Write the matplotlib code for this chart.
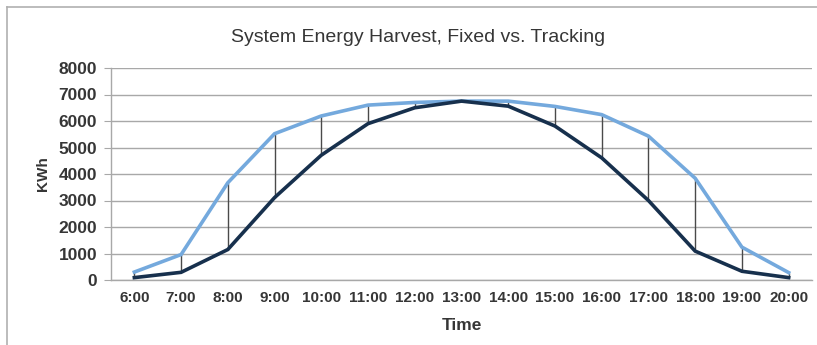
import matplotlib.pyplot as plt
from matplotlib.lines import Line2D

# hourly energy harvest (KWh)
hours = ["6:00", "7:00", "8:00", "9:00", "10:00", "11:00", "12:00", "13:00",
         "14:00", "15:00", "16:00", "17:00", "18:00", "19:00", "20:00"]
tracking = [300, 960, 3670, 5520, 6190, 6600, 6700, 6750,
            6750, 6550, 6240, 5430, 3840, 1240, 280]
fixed = [90, 290, 1150, 3110, 4710, 5900, 6500, 6750,
         6560, 5810, 4610, 3000, 1090, 330, 90]

text_color = "#363636"
narrow = ["Liberation Sans Narrow", "Liberation Sans", "DejaVu Sans"]
plt.rcParams["font.family"] = ["Liberation Sans", "DejaVu Sans"]

fig = plt.figure(figsize=(8.17, 3.45), dpi=100)
fig.set_facecolor("white")
ax = fig.add_axes([111 / 817, 1 - 280 / 345, 701 / 817, 212 / 345])

x = range(len(hours))

# drop lines between the two series
ax.vlines(x, fixed, tracking, color="#4a4a4a", lw=1.0, zorder=2)
ax.plot(x, tracking, color="#74a9dd", lw=2.6, zorder=3, solid_joinstyle="miter")
ax.plot(x, fixed, color="#17304d", lw=2.6, zorder=4, solid_joinstyle="miter")

ax.set_xlim(-0.5, len(hours) - 0.5)
ax.set_ylim(0, 8000)
ax.set_yticks(range(0, 8001, 1000))
ax.set_xticks(list(x))
ax.set_xticklabels(hours)

ax.grid(axis="y", color="#a8a8a8", lw=1.0)
ax.set_axisbelow(True)
for side in ("top", "right"):
    ax.spines[side].set_visible(False)
for side in ("left", "bottom"):
    ax.spines[side].set_color("#a8a8a8")
    ax.spines[side].set_linewidth(1.0)

ax.tick_params(axis="y", length=5, color="#a8a8a8", pad=5,
               labelsize=12.5, labelcolor=text_color)
ax.tick_params(axis="x", length=0, pad=8, labelsize=11, labelcolor=text_color)
for lbl in ax.get_yticklabels():
    lbl.set_fontweight("bold")
for lbl in ax.get_xticklabels():
    lbl.set_fontweight("bold")
    lbl.set_family(narrow)

ax.set_xlabel("Time", fontsize=12.5, fontweight="bold", color=text_color,
              family=narrow, labelpad=9)
ax.set_ylabel("KWh", fontsize=11, fontweight="bold", color=text_color, labelpad=6)

fig.text(418 / 817, 1 - 37 / 345, "System Energy Harvest, Fixed vs. Tracking",
         ha="center", va="center", fontsize=14, color=text_color)

# outer chart frame (top and left edges)
fig.add_artist(Line2D([7 / 817, 1], [1 - 7 / 345, 1 - 7 / 345],
                      transform=fig.transFigure, color="#b0b0b0", lw=1.2))
fig.add_artist(Line2D([7 / 817, 7 / 817], [0, 1 - 7 / 345],
                      transform=fig.transFigure, color="#b0b0b0", lw=1.2))

fig.savefig("out.png", dpi=100)
